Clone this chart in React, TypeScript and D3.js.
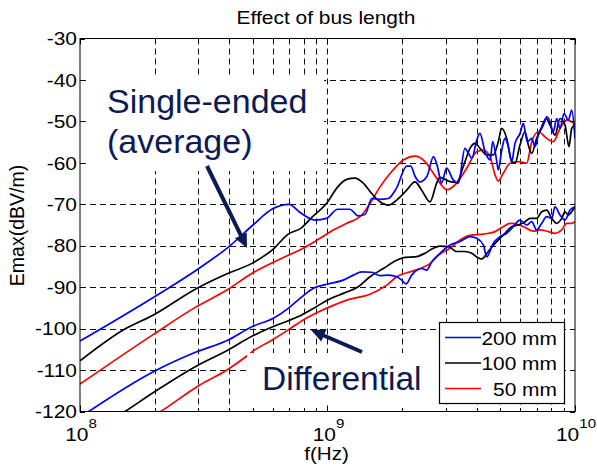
import * as React from "react";
import * as d3 from "d3";

// frequency in MHz, field in dBV/m
const seBlue200: [number, number][] = [
  [100, -103], [200, -92.3], [300, -85.6], [400, -80.2], [500, -75], [600, -71.1], [700, -70],
  [775, -72], [890, -73.8], [990, -73.4], [1100, -71.2], [1230, -71.2], [1330, -72.8], [1420, -72.4],
  [1510, -68.6], [1630, -68.8], [1760, -68.6], [1900, -66.1], [2090, -60.8], [2170, -60.8], [2260, -63.3],
  [2360, -64.6], [2520, -63.3], [2680, -58.5], [2780, -60.9], [2890, -64.9], [3030, -61.3], [3220, -64.1],
  [3380, -64.9], [3590, -56.5], [3710, -57.7], [3830, -58.9], [4010, -54.5], [4130, -52.9], [4330, -57.3],
  [4540, -59.3], [4650, -54.9], [4830, -59.7], [4900, -61.7], [5060, -56.9], [5210, -54.1], [5380, -56.1],
  [5550, -59.7], [5720, -55.3], [6000, -52.9], [6180, -50.5], [6420, -54.9], [6690, -54.1], [6890, -56.1],
  [7110, -53.3], [7450, -50.9], [7690, -48.9], [7930, -50.1], [8170, -52.5], [8440, -49.3], [8700, -51.7],
  [9030, -48.1], [9400, -49.7], [9700, -47.3], [10000, -54.1],
];

const seBlack100: [number, number][] = [
  [100, -107.8], [150, -100.3], [198, -96.7], [296, -90.3], [395, -86.7], [497, -84.2], [604, -80.8],
  [694, -77.2], [780, -75.8], [870, -73], [1000, -69.5], [1090, -66.1], [1196, -64], [1292, -63.7],
  [1395, -64.9], [1509, -67.4], [1630, -69.4], [1761, -70.2], [1904, -69], [2089, -66.6], [2257, -64.6],
  [2403, -66.6], [2595, -69.4], [2762, -64.9], [2848, -63.5], [3077, -64.4], [3327, -64.7], [3537, -60.9],
  [3765, -56.5], [3945, -55.3], [4133, -56.5], [4398, -58.1], [4677, -58.1], [4899, -54.9], [5055, -51.7],
  [5297, -54.1], [5549, -59.7], [5722, -60.1], [5995, -55.7], [6281, -52.5], [6477, -55.7], [6686, -57.7],
  [7001, -54.1], [7336, -51.3], [7636, -49.3], [7925, -50.9], [8303, -53.3], [8700, -49.3], [9115, -50.9],
  [9458, -56.1], [9698, -51.7], [10000, -50.9],
];

const seRed50: [number, number][] = [
  [100, -113.4], [198, -101.4], [290, -95], [392, -90.7], [494, -86.7], [694, -82.3], [798, -80.6],
  [933, -78.2], [1055, -76.2], [1196, -74.6], [1375, -72.6], [1485, -69.8], [1630, -65.8], [1817, -62.1],
  [2025, -59.3], [2257, -58.4], [2477, -59.7], [2676, -62.5], [2848, -64.9], [3031, -66.5], [3327, -64.9],
  [3651, -61.3], [4007, -57.3], [4262, -56.9], [4536, -58.5], [4752, -62.9], [4899, -64.4], [5131, -62.5],
  [5463, -60.1], [5901, -59.7], [6380, -60.1], [6686, -54.9], [7110, -52.5], [7685, -54.1], [8174, -54.9],
  [8700, -51.7], [9258, -49.7], [9698, -50.1], [10000, -50.9],
];

const diffBlue200: [number, number][] = [
  [100, -121.4], [198, -110.4], [296, -105.6], [395, -102.8], [497, -99.5], [604, -97.5], [694, -95.1],
  [774, -92.7], [890, -90.1], [993, -89.3], [1158, -88.3], [1271, -87.1], [1375, -86.3], [1509, -86.4],
  [1630, -87.2], [1761, -87.1], [1904, -87.5], [1994, -88.3], [2076, -89.2], [2189, -87.1], [2293, -85.9],
  [2403, -85.5], [2516, -85.9], [2636, -83.9], [2804, -82.2], [3126, -79.8], [3431, -79], [3765, -77.8],
  [4007, -78.2], [4262, -79.8], [4398, -82.7], [4677, -79.4], [4977, -77.8], [5297, -77], [5549, -75.8],
  [5995, -73.8], [6380, -75], [6686, -74.2], [7001, -76.2], [7336, -74.6], [7685, -73], [8052, -73.4],
  [8303, -70.6], [8700, -72.6], [9115, -73.8], [9546, -71.4], [10000, -70.6],
];

const diffBlack100: [number, number][] = [
  [100, -126.7], [152, -120], [198, -115.4], [296, -109], [395, -105.2], [497, -101.8], [604, -99.5],
  [694, -98.1], [787, -96.7], [890, -94.9], [993, -93.2], [1158, -91.5], [1332, -89.9], [1485, -87.5],
  [1681, -85.5], [1904, -83.5], [2056, -82.8], [2257, -82.7], [2477, -81.8], [2676, -80.6], [2848, -80.1],
  [3077, -80.2], [3327, -81.4], [3593, -81.4], [3825, -81.8], [4007, -82.7], [4198, -83.2], [4464, -81.4],
  [4826, -79], [5213, -77], [5549, -75.4], [5901, -75], [6281, -74.2], [6579, -73.4], [7001, -73.4],
  [7336, -71.8], [7685, -71.4], [8052, -73.4], [8436, -74.6], [8838, -73.4], [9115, -71.8], [9396, -72.6],
  [9698, -71.8], [10000, -70.6],
];

const diffRed50: [number, number][] = [
  [100, -132], [212, -120], [305, -113.6], [392, -110], [472, -106.6], [501, -105.4], [595, -102.8],
  [694, -100.3], [798, -97.9], [918, -96], [1055, -94.4], [1213, -93], [1485, -91.7], [1735, -89.5],
  [1904, -87.5], [2154, -86.3], [2364, -85.5], [2595, -84.3], [2762, -82.7], [2848, -82], [3126, -80.6],
  [3431, -78.6], [3765, -77.5], [4262, -77.2], [4752, -76.6], [5131, -75.4], [5463, -74.6], [5901, -74.9],
  [6281, -75.6], [6785, -76.5], [7222, -76.2], [7801, -76.6], [8303, -77], [8838, -76.2], [9258, -74.6],
  [9698, -74.6], [10000, -74.2],
];

const yTicks = [-30, -40, -50, -60, -70, -80, -90, -100, -110, -120];
const xMajor = [1e8, 1e9, 1e10];
const xMajorExp = ["8", "9", "10"];
const legendLabels = ["200 mm", "100 mm", "50 mm"];
const colors = ["#0000ff", "#000000", "#ff0000"];

const FONT = "'Liberation Sans', Arial, Helvetica, sans-serif";
const NAVY = "#0c1b54";
const SX = 1.12; // the matlab figure text is a bit stretched sideways

export default function App() {
  const svgRef = React.useRef<SVGSVGElement>(null);

  React.useEffect(() => {
    const svgElement = svgRef.current;
    if (!svgElement) return;
    while (svgElement.firstChild) svgElement.removeChild(svgElement.firstChild);

    const svg = d3.select(svgElement);
    const left = 80, right = 575, top = 38.5, bottom = 411.5;

    const x = d3.scaleLog().domain([1e8, 1e10]).range([left, right]);
    const y = d3.scaleLinear().domain([-120, -30]).range([bottom, top]);

    svg.append("rect").attr("width", 597).attr("height", 466).attr("fill", "#fff");

    /* grid */
    const grid = svg.append("g").attr("stroke", "#111").attr("stroke-width", 1)
      .attr("stroke-dasharray", "6,4");
    x.ticks().filter(t => t > 1e8 && t < 1e10).forEach(t => {
      const px = Math.round(x(t)) + 0.5;
      grid.append("line").attr("x1", px).attr("x2", px).attr("y1", top).attr("y2", bottom);
    });
    yTicks.filter(v => v > -120 && v < -30).forEach(v => {
      const py = Math.round(y(v)) + 0.5;
      grid.append("line").attr("x1", left).attr("x2", right).attr("y1", py).attr("y2", py);
    });

    /* series */
    svg.append("clipPath").attr("id", "plotClip")
      .append("rect").attr("x", left).attr("y", top).attr("width", right - left).attr("height", bottom - top);

    const line = d3.line<[number, number]>()
      .x(d => x(d[0] * 1e6))
      .y(d => y(d[1]))
      .curve(d3.curveMonotoneX);

    const lines = svg.append("g").attr("clip-path", "url(#plotClip)");
    const allSeries = [
      { data: diffRed50, c: colors[2] },
      { data: diffBlack100, c: colors[1] },
      { data: diffBlue200, c: colors[0] },
      { data: seRed50, c: colors[2] },
      { data: seBlack100, c: colors[1] },
      { data: seBlue200, c: colors[0] },
    ];
    allSeries.forEach(s => {
      lines.append("path")
        .attr("d", line(s.data))
        .attr("fill", "none")
        .attr("stroke", s.c)
        .attr("stroke-width", 1.7)
        .attr("stroke-linejoin", "round");
    });

    /* white boxes behind the annotation text */
    svg.append("rect").attr("x", 86).attr("y", 75).attr("width", 238).attr("height", 96).attr("fill", "#fff");
    svg.append("rect").attr("x", 247).attr("y", 353).attr("width", 192).attr("height", 55).attr("fill", "#fff");

    /* frame + ticks */
    const axis = svg.append("g").attr("stroke", "#000").attr("stroke-width", 1);
    x.ticks().forEach(t => {
      const px = Math.round(x(t)) + 0.5;
      const len = xMajor.includes(t) ? 6 : 3.5;
      axis.append("line").attr("x1", px).attr("x2", px).attr("y1", bottom).attr("y2", bottom - len);
      axis.append("line").attr("x1", px).attr("x2", px).attr("y1", top).attr("y2", top + len);
    });
    yTicks.forEach(v => {
      const py = Math.round(y(v)) + 0.5;
      axis.append("line").attr("x1", left).attr("x2", left + 5).attr("y1", py).attr("y2", py);
      axis.append("line").attr("x1", right).attr("x2", right - 5).attr("y1", py).attr("y2", py);
    });
    axis.append("rect").attr("x", left).attr("y", top).attr("width", right - left).attr("height", bottom - top)
      .attr("fill", "none");

    /* tick labels */
    const txt = svg.append("g").attr("font-family", FONT).attr("fill", "#000");
    yTicks.forEach(v => {
      txt.append("text")
        .attr("transform", `translate(77,${y(v)}) scale(${SX},1)`)
        .attr("text-anchor", "end")
        .attr("dy", "0.36em")
        .attr("font-size", 18.7)
        .text(v);
    });
    xMajor.forEach((t, i) => {
      const el = txt.append("text")
        .attr("transform", `translate(${x(t) + 1},440.5) scale(${SX},1)`)
        .attr("text-anchor", "middle")
        .attr("font-size", 18.7);
      el.append("tspan").text("10");
      el.append("tspan").attr("dy", -12.5).attr("font-size", 13.5).text(xMajorExp[i]);
    });

    txt.append("text")
      .attr("transform", `translate(326,24) scale(${SX},1)`)
      .attr("text-anchor", "middle").attr("font-size", 18.7)
      .text("Effect of bus length");
    txt.append("text")
      .attr("transform", `translate(326.5,460) scale(${SX},1)`)
      .attr("text-anchor", "middle").attr("font-size", 18.4)
      .text("f(Hz)");
    txt.append("text")
      .attr("transform", "translate(24,225.5) rotate(-90)")
      .attr("text-anchor", "middle").attr("font-size", 19.5)
      .text("Emax(dBV/m)");

    /* legend */
    const lg = svg.append("g");
    lg.append("rect").attr("x", 439.5).attr("y", 322.5).attr("width", 125).attr("height", 81)
      .attr("fill", "#fff").attr("stroke", "#000").attr("stroke-width", 1.2);
    const rowY = [337.5, 363, 388.5];
    legendLabels.forEach((lab, i) => {
      lg.append("line").attr("x1", 445).attr("x2", 481).attr("y1", rowY[i]).attr("y2", rowY[i])
        .attr("stroke", colors[i]).attr("stroke-width", 1.7);
      lg.append("text")
        .attr("transform", `translate(557,${rowY[i] + 7}) scale(${SX},1)`)
        .attr("text-anchor", "end").attr("font-family", FONT).attr("font-size", 18.7)
        .text(lab);
    });

    /* annotations */
    const ann = svg.append("g").attr("font-family", FONT).attr("fill", NAVY).attr("font-size", 34);
    ann.append("text").attr("x", 107).attr("y", 113).text("Single-ended");
    ann.append("text").attr("x", 107).attr("y", 153).text("(average)");
    ann.append("text").attr("x", 262).attr("y", 390).attr("font-size", 33.5).text("Differential");

    const arrow = (x0: number, y0: number, x1: number, y1: number) => {
      const dx = x1 - x0, dy = y1 - y0;
      const L = Math.hypot(dx, dy);
      const ux = dx / L, uy = dy / L;
      const head = 14, half = 6.5;
      const bx = x1 - ux * head, by = y1 - uy * head;
      svg.append("line").attr("x1", x0).attr("y1", y0).attr("x2", bx + ux * 2).attr("y2", by + uy * 2)
        .attr("stroke", NAVY).attr("stroke-width", 4);
      svg.append("path")
        .attr("d", `M${x1},${y1}L${bx - uy * half},${by + ux * half}L${bx + uy * half},${by - ux * half}Z`)
        .attr("fill", NAVY);
    };
    arrow(207, 166, 247, 248);
    arrow(362, 352, 311, 330);

    return () => {
      while (svgElement.firstChild) svgElement.removeChild(svgElement.firstChild);
    };
  }, []);

  return <svg ref={svgRef} width={597} height={466} style={{ position: "absolute", left: 0, top: 0 }} />;
}
